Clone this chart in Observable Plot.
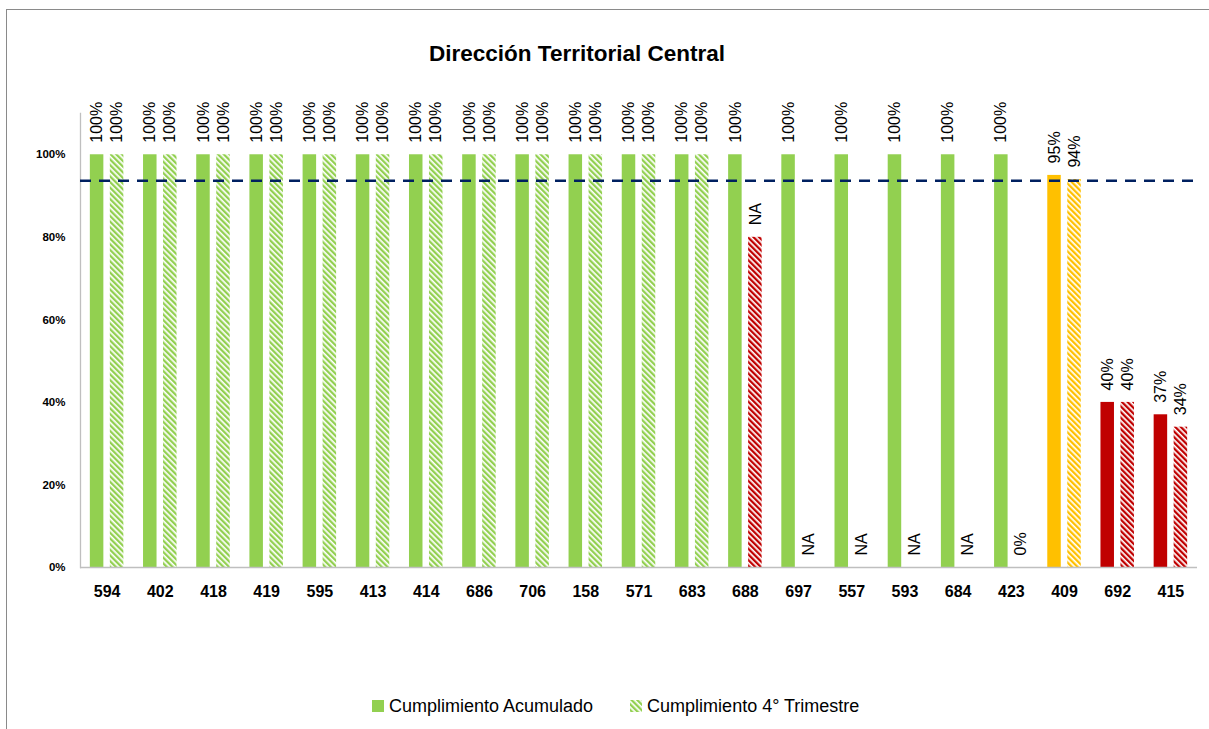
<!DOCTYPE html>
<html>
<head>
<meta charset="utf-8">
<script src="https://cdn.jsdelivr.net/npm/d3@7"></script>
<script src="https://cdn.jsdelivr.net/npm/@observablehq/plot@0.6"></script>
<style>
  html, body { margin: 0; padding: 0; background: #fff; }
  #wrap { position: relative; width: 1209px; height: 729px; overflow: hidden; font-family: "Liberation Sans", Arial, sans-serif; }
  #chart { position: absolute; left: 0; top: 0; }
  #title { position: absolute; left: 0; top: 43px; width: 1154px; text-align: center; font-size: 22.5px; line-height: 22px; font-weight: bold; color: #000; }
  #legend { position: absolute; left: 372px; top: 696px; font-size: 18px; line-height: 20px; color: #000; white-space: nowrap; }
  #legend span.item { display: inline-flex; align-items: center; }
  #legend svg { margin-right: 5px; }
  #border { position: absolute; left: 6px; top: 9px; width: 1300px; height: 800px; border-top: 1.5px solid #8a8a8a; border-left: 1.5px solid #8a8a8a; pointer-events: none; }
</style>
</head>
<body>
<div id="wrap">
  <div id="chart"></div>
  <div id="title">Dirección Territorial Central</div>
  <div id="legend"></div>
  <div id="border"></div>
</div>
<script>
// ---- data ----
const categories = ["594","402","418","419","595","413","414","686","706","158","571","683","688","697","557","593","684","423","409","692","415"];
const acumulado  = [1,1,1,1,1,1,1,1,1,1,1,1,1,1,1,1,1,1,0.95,0.40,0.37];
const trimestre  = [1,1,1,1,1,1,1,1,1,1,1,1,0.80,null,null,null,null,0,0.94,0.40,0.34];
const trimestreNA = ["688","697","557","593","684"];
const acumuladoStatus = ["ok","ok","ok","ok","ok","ok","ok","ok","ok","ok","ok","ok","ok","ok","ok","ok","ok","ok","warn","bad","bad"];
const trimestreStatus = ["ok","ok","ok","ok","ok","ok","ok","ok","ok","ok","ok","ok","bad","ok","ok","ok","ok","ok","warn","bad","bad"];
const meta = 0.937;
const yTicks = [0, 0.2, 0.4, 0.6, 0.8, 1];
const seriesNames = ["Cumplimiento Acumulado", "Cumplimiento 4° Trimestre"];

const statusColor = {ok: "#92D050", warn: "#FFC000", bad: "#C00000"};
const fmt = d3.format(".0%");

const rows = categories.map((cat, i) => ({
  cat,
  acum: acumulado[i],
  trim: trimestre[i],
  acumFill: statusColor[acumuladoStatus[i]],
  trimFill: `url(#hatch-${trimestreStatus[i]})`,
  acumLabel: fmt(acumulado[i]),
  trimLabel: trimestreNA.includes(cat) ? "NA" : fmt(trimestre[i]),
  trimY: trimestre[i] == null ? 0 : trimestre[i]
}));

const chart = Plot.plot({
  width: 1209,
  height: 620,
  marginLeft: 80,
  marginRight: 12,
  marginTop: 113,
  marginBottom: 53,
  style: {fontFamily: "'Liberation Sans', Arial, sans-serif", background: "transparent", color: "#000"},
  x: {domain: categories, paddingInner: 0.37, paddingOuter: 0.185, round: false, axis: null},
  y: {domain: [0, 1.1], axis: null},
  color: {type: "identity"},
  marks: [
    Plot.frame({anchor: "left", stroke: "#BFBFBF", strokeWidth: 1.3}),
    Plot.barY(rows, {x: "cat", y: "acum", fill: "acumFill", insetRight: 20}),
    Plot.barY(rows.filter(d => d.trim != null), {x: "cat", y: "trim", fill: "trimFill", insetLeft: 20}),
    Plot.ruleY([0], {stroke: "#BFBFBF", strokeWidth: 1.3}),
    Plot.ruleY([meta], {stroke: "#002060", strokeWidth: 2.7, strokeDasharray: "11,8"}),
    Plot.text(rows, {x: "cat", y: "acum", text: "acumLabel", rotate: -90, textAnchor: "start", dx: -10, dy: -12, fontSize: 16, fill: "#000"}),
    Plot.text(rows, {x: "cat", y: "trimY", text: "trimLabel", rotate: -90, textAnchor: "start", dx: 10, dy: -12, fontSize: 16, fill: "#000"}),
    Plot.axisY({ticks: yTicks, tickFormat: fmt, tickSize: 0, tickPadding: 15, fontWeight: "bold", fontSize: 11.5, label: null}),
    Plot.axisX({tickSize: 0, tickPadding: 18, fontWeight: "bold", fontSize: 16, label: null})
  ]
});

// hatch patterns
function addPatterns(svgSel, prefix) {
  const defs = svgSel.insert("defs", ":first-child");
  for (const [k, c] of Object.entries(statusColor)) {
    const p = defs.append("pattern")
      .attr("id", prefix + k)
      .attr("patternUnits", "userSpaceOnUse")
      .attr("width", 4).attr("height", 4)
      .attr("patternTransform", "rotate(-45)");
    p.append("rect").attr("width", 4).attr("height", 4).attr("fill", "#fff");
    p.append("rect").attr("width", 2.3).attr("height", 4).attr("fill", c);
  }
}
addPatterns(d3.select(chart), "hatch-");
document.getElementById("chart").appendChild(chart);

// legend
const legend = d3.select("#legend");
const i1 = legend.append("span").attr("class", "item");
const s1 = i1.append("svg").attr("width", 12).attr("height", 12);
s1.append("rect").attr("width", 12).attr("height", 12).attr("fill", statusColor.ok);
i1.append("span").text(seriesNames[0]);
legend.append("span").style("display", "inline-block").style("width", "37px");
const i2 = legend.append("span").attr("class", "item");
const s2 = i2.append("svg").attr("width", 12).attr("height", 12);
addPatterns(s2, "lg-hatch-");
s2.append("rect").attr("width", 12).attr("height", 12).attr("fill", "url(#lg-hatch-ok)");
i2.append("span").text(seriesNames[1]);
</script>
</body>
</html>
